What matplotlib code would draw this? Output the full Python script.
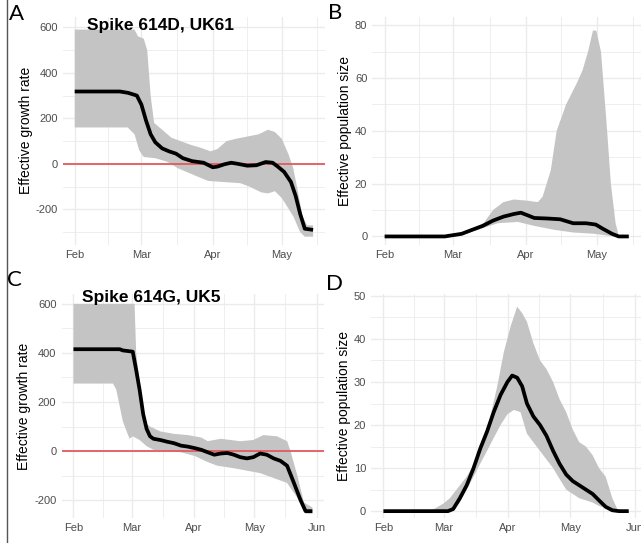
import numpy as np
import matplotlib
matplotlib.use("Agg")
import matplotlib.pyplot as plt
import matplotlib.dates as mdates
from matplotlib.lines import Line2D
from datetime import datetime

plt.rcParams['font.family'] = ['Liberation Sans', 'DejaVu Sans']

# === data (days since 1 Feb 2020) ===
# Panel A: Spike 614D, UK61 - effective growth rate
a_line_day = [0, 19.6, 23.2, 27, 29, 31, 33, 35, 38, 41, 44, 47, 51, 56, 60, 62, 65, 68, 71,
              75, 79, 83, 86, 88, 91, 94, 96, 98, 100, 103.6]
a_line_val = [318, 318, 312, 300, 260, 190, 130, 95, 68, 55, 45, 25, 12, 5, -15, -12, -2, 5, 0,
              -8, -6, 8, 5, -10, -35, -80, -140, -220, -285, -290]
a_up_day = [0, 26, 27.5, 30, 31.5, 33, 34.5, 38, 42, 46, 50, 55, 59, 62, 66, 70, 75, 80, 84, 87,
            90, 93, 95, 97, 99, 101, 103.6]
a_up_val = [590, 590, 560, 550, 500, 300, 180, 150, 115, 100, 85, 70, 55, 65, 100, 110, 120, 130,
            150, 140, 110, 40, -20, -120, -230, -270, -270]
a_lo_day = [0, 23, 26, 28, 30, 35, 40, 45, 52, 58, 65, 72, 76, 81, 84, 87, 90, 95, 98, 100, 103.6]
a_lo_val = [160, 160, 130, 60, 30, 25, 10, -20, -50, -75, -80, -85, -100, -125, -130, -120, -150,
            -230, -300, -320, -320]

# Panel B: effective population size (614D)
b_line_day = [0, 25.5, 32.7, 37.1, 41.6, 46, 50.4, 54.8, 57.8, 60.7, 63.5, 69, 74.5, 80, 85.5,
              89.6, 92.4, 96.5, 99.3, 103.6]
b_line_val = [0, 0, 1, 2.5, 4, 6, 7.5, 8.5, 9, 8, 7, 6.8, 6.5, 5, 5, 4.5, 3, 1, 0, 0]
b_up_day = [0, 25.5, 35, 42, 46, 50.4, 54.8, 61, 65, 67, 70.5, 73, 77, 81.5, 84, 86.3, 88.4,
            89.8, 91.8, 94, 96, 98, 99.3, 103.6]
b_up_val = [0, 0, 2, 5, 10, 13, 14, 13.5, 13, 15, 25, 40, 50, 58, 63, 70, 78, 78, 70, 45, 20, 5,
            0.5, 0]
b_lo_day = [0, 31, 39.5, 48, 56.5, 63.5, 72, 80, 89, 97, 103.6]
b_lo_val = [0, 0, 2.5, 5, 5.5, 4, 2.5, 1.5, 1, 0, 0]

# Panel C: Spike 614G, UK5 - effective growth rate
c_line_day = [0, 23, 24.6, 29.5, 31.2, 32.9, 34.7, 36.4, 38.1, 39.8, 43.2, 46.6, 50, 53.5, 56.9,
              60.3, 63.6, 66.8, 70.1, 73.3, 76.6, 79.8, 83, 86.3, 89.5, 92.9, 96.2, 99.6, 103,
              106.3, 109.7, 113, 115.5, 118.9]
c_line_val = [415, 415, 410, 405, 330, 250, 150, 90, 60, 50, 45, 38, 32, 22, 18, 12, 5, -5, -15,
              -10, -8, -15, -25, -30, -25, -10, -15, -30, -40, -60, -130, -200, -245, -245]
c_up_day = [0, 28.7, 30.4, 31.2, 32.9, 34.7, 36.4, 38.1, 43.2, 50, 57, 63.6, 66.8, 73.3, 83,
            89.5, 94.5, 101.3, 106.3, 108, 111.4, 114.7, 118.9]
c_up_val = [600, 600, 600, 400, 280, 150, 110, 100, 80, 70, 65, 55, 40, 50, 40, 45, 65, 60, 40,
            0, -100, -210, -230]
c_lo_day = [0, 19.7, 21.3, 24.6, 27.9, 29.5, 32.9, 36.4, 39.8, 46.6, 53.5, 60.3, 66.8, 71.7, 79.8,
            86.3, 92.9, 99.6, 106.3, 109.7, 113, 115.5, 118.9]
c_lo_val = [275, 275, 250, 120, 50, 60, 45, 20, 5, 0, -5, -20, -45, -60, -70, -80, -90, -110,
            -130, -170, -210, -255, -255]

# Panel D: effective population size (614G)
d_line_day = [0, 31.1, 33.6, 36.8, 40.1, 43.4, 46.6, 49.9, 53.1, 56.4, 59.7, 62, 64.4, 66.8, 69.1,
              72.2, 75.4, 78.5, 81.7, 84.8, 88, 91.1, 94.3, 97.5, 100.7, 103.8, 107, 110.2, 113.4,
              118.1]
d_line_val = [0, 0, 0.5, 3, 6, 10, 14.5, 18.5, 23, 27, 30, 31.5, 31, 29, 25, 22, 20, 17.5, 14, 11,
              8.5, 7, 6, 5, 4, 2.5, 1, 0.2, 0, 0]
d_up_day = [0, 22.3, 25.5, 28.7, 32, 35.2, 40.1, 45, 48.3, 51.5, 54.8, 58, 61.3, 64.4, 66.8, 69.1,
            72.2, 75.4, 78.5, 81.7, 84.8, 88, 91.1, 94.3, 97.5, 100.7, 103.8, 107, 110.2, 112.6,
            118.1]
d_up_val = [0, 0, 0.8, 1.7, 3, 5, 8, 12, 17, 22, 29, 37, 43, 47.5, 46, 44, 39, 35, 33, 30, 26, 23,
            19, 16, 15, 13, 10, 8, 3, 0.5, 0]
d_lo_day = [0, 33.6, 36.8, 40.1, 43.4, 46.6, 49.9, 53.1, 56.4, 59.7, 62.8, 66, 69.1, 72.2, 75.4,
            78.5, 81.7, 84.8, 88, 91.1, 94.3, 97.5, 100.7, 103.8, 107, 110.2, 113.4, 118.1]
d_lo_val = [0, 0, 2, 5, 8, 11, 14, 17, 20, 22.5, 23.5, 23, 18, 16, 14, 12, 10, 7.5, 5, 4, 3, 2.5,
            2, 1.2, 0.7, 0.2, 0, 0]

month_labels_ab = ["Feb", "Mar", "Apr", "May"]
month_labels_cd = ["Feb", "Mar", "Apr", "May", "Jun"]
growth_ticks = [-200, 0, 200, 400, 600]
ne_ticks_b = [0, 20, 40, 60, 80]
ne_ticks_d = [0, 10, 20, 30, 40, 50]

# =========================================================
start = mdates.date2num(datetime(2020, 2, 1))
months = [mdates.date2num(datetime(2020, m, 1)) for m in range(1, 8)]  # Jan..Jul
month_minor = [(months[i] + months[i + 1]) / 2 for i in range(len(months) - 1)]

BAND = "#c4c4c4"
GRID = "#ebebeb"


def to_x(days):
    return start + np.array(days, dtype=float)


def draw_panel(ax, line_d, line_v, up_d, up_v, lo_d, lo_v, labels, yticks, ylim, ylabel,
               hline=False):
    # band as a closed polygon: upper edge, then lower edge back
    bx = np.concatenate([to_x(up_d), to_x(lo_d)[::-1]])
    by = np.concatenate([up_v, lo_v[::-1]])
    ax.fill(bx, by, color=BAND, lw=0, zorder=2)
    if hline:
        ax.axhline(0, color="#e05a5e", lw=1.3, zorder=3)
    ax.plot(to_x(line_d), line_v, color="black", lw=2.7, zorder=4,
            solid_capstyle="butt")

    nmaj = len(labels)
    ax.set_xticks(months[1:1 + nmaj])
    ax.set_xticklabels(labels)
    ax.set_xticks(month_minor, minor=True)
    ax.set_yticks(yticks)
    ax.set_yticklabels([str(t) for t in yticks])
    step = yticks[1] - yticks[0]
    yminor = np.arange(yticks[0] - step / 2, yticks[-1] + step, step)
    ax.set_yticks(yminor, minor=True)

    # limits after ticks, so the tick lists don't widen the view
    xmax = max(line_d)
    pad = 0.05 * xmax
    ax.set_xlim(start - pad, start + xmax + pad)
    ax.set_ylim(*ylim)

    ax.grid(True, which="major", color=GRID, lw=1.0, zorder=0)
    ax.grid(True, which="minor", color=GRID, lw=0.6, zorder=0)
    ax.set_axisbelow(True)
    for s in ax.spines.values():
        s.set_visible(False)
    ax.tick_params(which="both", length=0, labelsize=8, labelcolor="#4d4d4d", pad=3.7)
    ax.set_ylabel(ylabel, fontsize=10, labelpad=2)


fig = plt.figure(figsize=(6.41, 5.43), dpi=100)

axA = fig.add_axes([0.098, 0.549, 0.409, 0.420])
axB = fig.add_axes([0.581, 0.549, 0.419, 0.420])
axC = fig.add_axes([0.096, 0.046, 0.410, 0.413])
axD = fig.add_axes([0.579, 0.046, 0.421, 0.413])

draw_panel(axA, a_line_day, a_line_val, a_up_day, a_up_val, a_lo_day, a_lo_val,
           month_labels_ab, growth_ticks, (-356, 646), "Effective growth rate", hline=True)
draw_panel(axB, b_line_day, b_line_val, b_up_day, b_up_val, b_lo_day, b_lo_val,
           month_labels_ab, ne_ticks_b, (-3.2, 83.2), "Effective population size")
draw_panel(axC, c_line_day, c_line_val, c_up_day, c_up_val, c_lo_day, c_lo_val,
           month_labels_cd, growth_ticks, (-273, 641), "Effective growth rate", hline=True)
draw_panel(axD, d_line_day, d_line_val, d_up_day, d_up_val, d_lo_day, d_lo_val,
           month_labels_cd, ne_ticks_d, (-1.6, 50.5), "Effective population size")

axA.text(0.092, 0.962, "Spike 614D, UK61", transform=axA.transAxes, fontsize=12.5,
         fontweight="bold", va="center", ha="left")
axC.text(0.078, 0.985, "Spike 614G, UK5", transform=axC.transAxes, fontsize=12.5,
         fontweight="bold", va="center", ha="left")

# panel letters (positions in pixels from the top-left)
W, H = 641, 543
for lab, px, py in [("A", 9, 4), ("B", 328, 3), ("C", 7, 270), ("D", 326, 274)]:
    fig.text(px / W, 1 - py / H, lab, fontsize=16, ha="left", va="top",
             family=["Lato", "Liberation Sans"], fontweight="normal")

# thin frame line on the left edge
fig.add_artist(Line2D([0.0115, 0.0115], [0, 1], transform=fig.transFigure,
                      color="#555555", lw=1.0))

plt.savefig("out.png", dpi=100)
plt.close()
